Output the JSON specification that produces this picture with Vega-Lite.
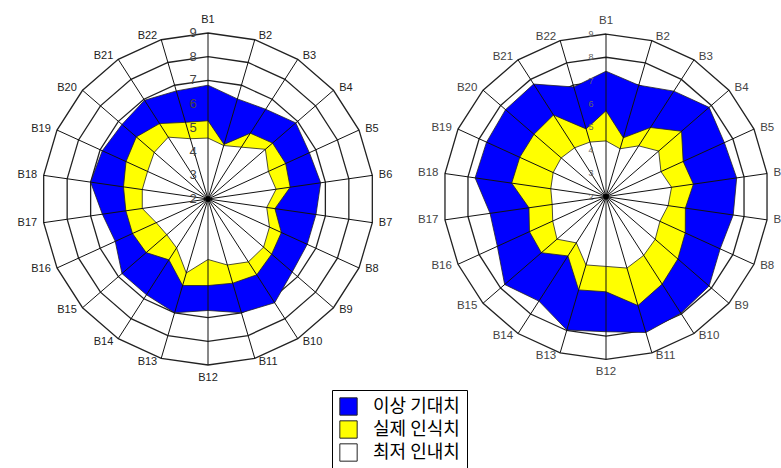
{
  "$schema": "https://vega.github.io/schema/vega-lite/v6.json",
  "padding": 0,
  "spacing": 0,
  "bounds": "flush",
  "background": "white",
  "config": {"view": {"stroke": null}, "text": {"font": "Liberation Sans"}},
  "datasets": {
    "vals": [
      {"chart":"L","spoke":1,"label":"B1","ideal":6.8,"actual":5.3,"minimum":4.57},
      {"chart":"L","spoke":2,"label":"B2","ideal":6.4,"actual":4.4,"minimum":4.35},
      {"chart":"L","spoke":3,"label":"B3","ideal":6.5,"actual":5.3,"minimum":4.6},
      {"chart":"L","spoke":4,"label":"B4","ideal":6.9,"actual":5.6,"minimum":5.2},
      {"chart":"L","spoke":5,"label":"B5","ideal":6.7,"actual":5.6,"minimum":4.8},
      {"chart":"L","spoke":6,"label":"B6","ideal":6.8,"actual":5.5,"minimum":4.9},
      {"chart":"L","spoke":7,"label":"B7","ideal":6.6,"actual":4.85,"minimum":4.5},
      {"chart":"L","spoke":8,"label":"B8","ideal":6.6,"actual":5.4,"minimum":4.85},
      {"chart":"L","spoke":9,"label":"B9","ideal":6.7,"actual":5.55,"minimum":5.1},
      {"chart":"L","spoke":10,"label":"B10","ideal":7.2,"actual":5.8,"minimum":5.15},
      {"chart":"L","spoke":11,"label":"B11","ideal":7.0,"actual":5.7,"minimum":4.9},
      {"chart":"L","spoke":12,"label":"B12","ideal":6.7,"actual":5.65,"minimum":4.55},
      {"chart":"L","spoke":13,"label":"B13","ideal":7.0,"actual":5.8,"minimum":5.25},
      {"chart":"L","spoke":14,"label":"B14","ideal":6.8,"actual":5.05,"minimum":4.45},
      {"chart":"L","spoke":15,"label":"B15","ideal":6.8,"actual":5.45,"minimum":4.3},
      {"chart":"L","spoke":16,"label":"B16","ideal":6.3,"actual":5.5,"minimum":4.4},
      {"chart":"L","spoke":17,"label":"B17","ideal":6.5,"actual":5.5,"minimum":4.8},
      {"chart":"L","spoke":18,"label":"B18","ideal":7.0,"actual":5.6,"minimum":4.8},
      {"chart":"L","spoke":19,"label":"B19","ideal":6.9,"actual":5.8,"minimum":4.8},
      {"chart":"L","spoke":20,"label":"B20","ideal":6.8,"actual":6.0,"minimum":5.0},
      {"chart":"L","spoke":21,"label":"B21","ideal":6.95,"actual":5.78,"minimum":5.1},
      {"chart":"L","spoke":22,"label":"B22","ideal":6.75,"actual":5.37,"minimum":4.65},
      {"chart":"R","spoke":1,"label":"B1","ideal":7.4,"actual":5.7,"minimum":4.4},
      {"chart":"R","spoke":2,"label":"B2","ideal":7.0,"actual":4.64,"minimum":4.15},
      {"chart":"R","spoke":3,"label":"B3","ideal":7.4,"actual":5.54,"minimum":4.6},
      {"chart":"R","spoke":4,"label":"B4","ideal":7.87,"actual":6.3,"minimum":5.0},
      {"chart":"R","spoke":5,"label":"B5","ideal":7.6,"actual":5.65,"minimum":4.6},
      {"chart":"R","spoke":6,"label":"B6","ideal":7.68,"actual":5.8,"minimum":4.85},
      {"chart":"R","spoke":7,"label":"B7","ideal":7.53,"actual":5.45,"minimum":4.7},
      {"chart":"R","spoke":8,"label":"B8","ideal":7.4,"actual":5.75,"minimum":4.55},
      {"chart":"R","spoke":9,"label":"B9","ideal":7.87,"actual":6.09,"minimum":4.8},
      {"chart":"R","spoke":10,"label":"B10","ideal":7.96,"actual":6.47,"minimum":5.0},
      {"chart":"R","spoke":11,"label":"B11","ideal":8.09,"actual":6.88,"minimum":5.2},
      {"chart":"R","spoke":12,"label":"B12","ideal":7.81,"actual":6.09,"minimum":5.0},
      {"chart":"R","spoke":13,"label":"B13","ideal":7.98,"actual":6.18,"minimum":5.06},
      {"chart":"R","spoke":14,"label":"B14","ideal":7.34,"actual":5.03,"minimum":4.36},
      {"chart":"R","spoke":15,"label":"B15","ideal":7.77,"actual":5.68,"minimum":4.79},
      {"chart":"R","spoke":16,"label":"B16","ideal":7.14,"actual":5.62,"minimum":4.52},
      {"chart":"R","spoke":17,"label":"B17","ideal":7.04,"actual":5.35,"minimum":4.34},
      {"chart":"R","spoke":18,"label":"B18","ideal":7.69,"actual":6.1,"minimum":4.4},
      {"chart":"R","spoke":19,"label":"B19","ideal":7.65,"actual":6.08,"minimum":4.5},
      {"chart":"R","spoke":20,"label":"B20","ideal":7.72,"actual":6.1,"minimum":4.55},
      {"chart":"R","spoke":21,"label":"B21","ideal":7.76,"actual":6.18,"minimum":4.5},
      {"chart":"R","spoke":22,"label":"B22","ideal":6.92,"actual":5.04,"minimum":4.45}
    ],
    "rings": [
      {"level":3,"spoke":[1,2,3,4,5,6,7,8,9,10,11,12,13,14,15,16,17,18,19,20,21,22]},
      {"level":4,"spoke":[1,2,3,4,5,6,7,8,9,10,11,12,13,14,15,16,17,18,19,20,21,22]},
      {"level":5,"spoke":[1,2,3,4,5,6,7,8,9,10,11,12,13,14,15,16,17,18,19,20,21,22]},
      {"level":6,"spoke":[1,2,3,4,5,6,7,8,9,10,11,12,13,14,15,16,17,18,19,20,21,22]},
      {"level":7,"spoke":[1,2,3,4,5,6,7,8,9,10,11,12,13,14,15,16,17,18,19,20,21,22]},
      {"level":8,"spoke":[1,2,3,4,5,6,7,8,9,10,11,12,13,14,15,16,17,18,19,20,21,22]},
      {"level":9,"spoke":[1,2,3,4,5,6,7,8,9,10,11,12,13,14,15,16,17,18,19,20,21,22]}
    ],
    "levels": [{"level":2},{"level":3},{"level":4},{"level":5},{"level":6},{"level":7},{"level":8},{"level":9}]
  },
  "hconcat": [
    {
      "width": 400, "height": 468,
      "layer": [
        {"data":{"name":"rings"},
         "transform":[{"flatten":["spoke"]},{"calculate":"(datum.spoke-1)*2*PI/22","as":"a"},{"calculate":"(datum.level-2)*sin(datum.a)","as":"x"},{"calculate":"(datum.level-2)*cos(datum.a)","as":"y"}],
         "mark":{"type":"line","interpolate":"linear-closed","color":"#222","strokeWidth":1.3},
         "encoding":{"x":{"field":"x","type":"quantitative","scale":{"domain":[-8.771,8.096],"nice":false,"zero":false},"axis":null},
                     "y":{"field":"y","type":"quantitative","scale":{"domain":[-11.343,8.392],"nice":false,"zero":false},"axis":null},
                     "detail":{"field":"level","type":"nominal"},"order":{"field":"spoke","type":"quantitative"}}},
        {"data":{"name":"vals"},
         "transform":[{"filter":"datum.chart==='L'"},{"fold":["ideal","actual","minimum"],"as":["series","value"]},{"filter":"datum.series==='ideal'"},{"calculate":"(datum.spoke-1)*2*PI/22","as":"a"},{"calculate":"(datum.value-2)*sin(datum.a)","as":"x"},{"calculate":"(datum.value-2)*cos(datum.a)","as":"y"}],
         "mark":{"type":"line","interpolate":"linear-closed","stroke":"#222","strokeWidth":0.8},
         "encoding":{"x":{"field":"x","type":"quantitative","axis":null},"y":{"field":"y","type":"quantitative","axis":null},
                     "fill":{"field":"series","type":"nominal","scale":{"domain":["ideal","actual","minimum"],"range":["#0000FF","#FFFF00","#FFFFFF"]},
                             "legend":{"orient":"none","legendX":332,"legendY":390,"title":null,
                                       "labelExpr":"datum.label==='ideal'?'이상 기대치':datum.label==='actual'?'실제 인식치':'최저 인내치'",
                                       "symbolType":"square","symbolSize":300,"symbolStrokeColor":"black","symbolStrokeWidth":1,"symbolOpacity":1,
                                       "labelFont":"Noto Sans CJK KR","labelFontSize":18,"labelColor":"black","labelOffset":15,"rowPadding":0,
                                       "padding":7,"strokeColor":"black","fillColor":"white"}},
                     "order":{"field":"spoke","type":"quantitative"}}},
        {"data":{"name":"vals"},
         "transform":[{"filter":"datum.chart==='L'"},{"fold":["ideal","actual","minimum"],"as":["series","value"]},{"filter":"datum.series==='actual'"},{"calculate":"(datum.spoke-1)*2*PI/22","as":"a"},{"calculate":"(datum.value-2)*sin(datum.a)","as":"x"},{"calculate":"(datum.value-2)*cos(datum.a)","as":"y"}],
         "mark":{"type":"line","interpolate":"linear-closed","stroke":"#222","strokeWidth":0.8},
         "encoding":{"x":{"field":"x","type":"quantitative","axis":null},"y":{"field":"y","type":"quantitative","axis":null},
                     "fill":{"field":"series","type":"nominal"},
                     "order":{"field":"spoke","type":"quantitative"}}},
        {"data":{"name":"vals"},
         "transform":[{"filter":"datum.chart==='L'"},{"fold":["ideal","actual","minimum"],"as":["series","value"]},{"filter":"datum.series==='minimum'"},{"calculate":"(datum.spoke-1)*2*PI/22","as":"a"},{"calculate":"(datum.value-2)*sin(datum.a)","as":"x"},{"calculate":"(datum.value-2)*cos(datum.a)","as":"y"}],
         "mark":{"type":"line","interpolate":"linear-closed","stroke":"#222","strokeWidth":0.8},
         "encoding":{"x":{"field":"x","type":"quantitative","axis":null},"y":{"field":"y","type":"quantitative","axis":null},
                     "fill":{"field":"series","type":"nominal"},
                     "order":{"field":"spoke","type":"quantitative"}}},
        {"data":{"name":"vals"},
         "transform":[{"filter":"datum.chart==='L'"},{"calculate":"(datum.spoke-1)*2*PI/22","as":"a"},{"calculate":"0","as":"x"},{"calculate":"0","as":"y"},{"calculate":"7*sin(datum.a)","as":"ex"},{"calculate":"7*cos(datum.a)","as":"ey"}],
         "mark":{"type":"rule","color":"#111","strokeWidth":1},
         "encoding":{"x":{"field":"x","type":"quantitative","axis":null},"y":{"field":"y","type":"quantitative","axis":null},"x2":{"field":"ex"},"y2":{"field":"ey"}}},
        {"data":{"values":[{"x":0,"y":0}]},
         "mark":{"type":"point","filled":true,"color":"black","size":30,"opacity":1},
         "encoding":{"x":{"field":"x","type":"quantitative","axis":null},"y":{"field":"y","type":"quantitative","axis":null}}},
        {"data":{"name":"vals"},
         "transform":[{"filter":"datum.chart==='L' && datum.spoke>=2 && datum.spoke<=11"},{"calculate":"(datum.spoke-1)*2*PI/22","as":"a"},{"calculate":"7.15*sin(datum.a)","as":"x"},{"calculate":"7.15*cos(datum.a)","as":"y"}],
         "mark":{"type":"text","align":"left","baseline":"middle","dx":3,"fontSize":11,"color":"#222"},
         "encoding":{"x":{"field":"x","type":"quantitative","axis":null},"y":{"field":"y","type":"quantitative","axis":null},"text":{"field":"label","type":"nominal"}}},
        {"data":{"name":"vals"},
         "transform":[{"filter":"datum.chart==='L' && datum.spoke>=13"},{"calculate":"(datum.spoke-1)*2*PI/22","as":"a"},{"calculate":"7.15*sin(datum.a)","as":"x"},{"calculate":"7.15*cos(datum.a)","as":"y"}],
         "mark":{"type":"text","align":"right","baseline":"middle","dx":-3,"fontSize":11,"color":"#222"},
         "encoding":{"x":{"field":"x","type":"quantitative","axis":null},"y":{"field":"y","type":"quantitative","axis":null},"text":{"field":"label","type":"nominal"}}},
        {"data":{"name":"vals"},
         "transform":[{"filter":"datum.chart==='L' && datum.spoke===1"},{"calculate":"0","as":"x"},{"calculate":"7","as":"y"}],
         "mark":{"type":"text","align":"center","baseline":"bottom","dy":-8,"fontSize":11,"color":"#222"},
         "encoding":{"x":{"field":"x","type":"quantitative","axis":null},"y":{"field":"y","type":"quantitative","axis":null},"text":{"field":"label","type":"nominal"}}},
        {"data":{"name":"vals"},
         "transform":[{"filter":"datum.chart==='L' && datum.spoke===12"},{"calculate":"0","as":"x"},{"calculate":"-7","as":"y"}],
         "mark":{"type":"text","align":"center","baseline":"top","dy":7,"fontSize":11,"color":"#222"},
         "encoding":{"x":{"field":"x","type":"quantitative","axis":null},"y":{"field":"y","type":"quantitative","axis":null},"text":{"field":"label","type":"nominal"}}},
        {"data":{"name":"levels"},
         "transform":[{"calculate":"0","as":"x"},{"calculate":"datum.level-2","as":"y"}],
         "mark":{"type":"text","align":"center","baseline":"middle","dx":-15,"fontSize":13,"color":"#444"},
         "encoding":{"x":{"field":"x","type":"quantitative","axis":null},"y":{"field":"y","type":"quantitative","axis":null},"text":{"field":"level","type":"nominal"}}}
      ]
    },
    {
      "width": 381, "height": 468,
      "layer": [
        {"data":{"name":"rings"},
         "transform":[{"flatten":["spoke"]},{"calculate":"(datum.spoke-1)*2*PI/22","as":"a"},{"calculate":"(datum.level-2)*sin(datum.a)","as":"x"},{"calculate":"(datum.level-2)*cos(datum.a)","as":"y"}],
         "mark":{"type":"line","interpolate":"linear-closed","color":"#222","strokeWidth":1.3},
         "encoding":{"x":{"field":"x","type":"quantitative","scale":{"domain":[-8.864,7.530],"nice":false,"zero":false},"axis":null},
                     "y":{"field":"y","type":"quantitative","scale":{"domain":[-11.674,8.464],"nice":false,"zero":false},"axis":null},
                     "detail":{"field":"level","type":"nominal"},"order":{"field":"spoke","type":"quantitative"}}},
        {"data":{"name":"vals"},
         "transform":[{"filter":"datum.chart==='R'"},{"fold":["ideal","actual","minimum"],"as":["series","value"]},{"filter":"datum.series==='ideal'"},{"calculate":"(datum.spoke-1)*2*PI/22","as":"a"},{"calculate":"(datum.value-2)*sin(datum.a)","as":"x"},{"calculate":"(datum.value-2)*cos(datum.a)","as":"y"}],
         "mark":{"type":"line","interpolate":"linear-closed","stroke":"#222","strokeWidth":0.8},
         "encoding":{"x":{"field":"x","type":"quantitative","axis":null},"y":{"field":"y","type":"quantitative","axis":null},
                     "fill":{"field":"series","type":"nominal","legend":null},
                     "order":{"field":"spoke","type":"quantitative"}}},
        {"data":{"name":"vals"},
         "transform":[{"filter":"datum.chart==='R'"},{"fold":["ideal","actual","minimum"],"as":["series","value"]},{"filter":"datum.series==='actual'"},{"calculate":"(datum.spoke-1)*2*PI/22","as":"a"},{"calculate":"(datum.value-2)*sin(datum.a)","as":"x"},{"calculate":"(datum.value-2)*cos(datum.a)","as":"y"}],
         "mark":{"type":"line","interpolate":"linear-closed","stroke":"#222","strokeWidth":0.8},
         "encoding":{"x":{"field":"x","type":"quantitative","axis":null},"y":{"field":"y","type":"quantitative","axis":null},
                     "fill":{"field":"series","type":"nominal","legend":null},
                     "order":{"field":"spoke","type":"quantitative"}}},
        {"data":{"name":"vals"},
         "transform":[{"filter":"datum.chart==='R'"},{"fold":["ideal","actual","minimum"],"as":["series","value"]},{"filter":"datum.series==='minimum'"},{"calculate":"(datum.spoke-1)*2*PI/22","as":"a"},{"calculate":"(datum.value-2)*sin(datum.a)","as":"x"},{"calculate":"(datum.value-2)*cos(datum.a)","as":"y"}],
         "mark":{"type":"line","interpolate":"linear-closed","stroke":"#222","strokeWidth":0.8},
         "encoding":{"x":{"field":"x","type":"quantitative","axis":null},"y":{"field":"y","type":"quantitative","axis":null},
                     "fill":{"field":"series","type":"nominal","legend":null},
                     "order":{"field":"spoke","type":"quantitative"}}},
        {"data":{"name":"vals"},
         "transform":[{"filter":"datum.chart==='R'"},{"calculate":"(datum.spoke-1)*2*PI/22","as":"a"},{"calculate":"0","as":"x"},{"calculate":"0","as":"y"},{"calculate":"7*sin(datum.a)","as":"ex"},{"calculate":"7*cos(datum.a)","as":"ey"}],
         "mark":{"type":"rule","color":"#111","strokeWidth":1},
         "encoding":{"x":{"field":"x","type":"quantitative","axis":null},"y":{"field":"y","type":"quantitative","axis":null},"x2":{"field":"ex"},"y2":{"field":"ey"}}},
        {"data":{"values":[{"x":0,"y":0}]},
         "mark":{"type":"point","filled":true,"color":"black","size":30,"opacity":1},
         "encoding":{"x":{"field":"x","type":"quantitative","axis":null},"y":{"field":"y","type":"quantitative","axis":null}}},
        {"data":{"name":"vals"},
         "transform":[{"filter":"datum.chart==='R' && datum.spoke>=2 && datum.spoke<=11"},{"calculate":"(datum.spoke-1)*2*PI/22","as":"a"},{"calculate":"7.15*sin(datum.a)","as":"x"},{"calculate":"7.15*cos(datum.a)","as":"y"}],
         "mark":{"type":"text","align":"left","baseline":"middle","dx":3,"fontSize":11.5,"color":"#444"},
         "encoding":{"x":{"field":"x","type":"quantitative","axis":null},"y":{"field":"y","type":"quantitative","axis":null},"text":{"field":"label","type":"nominal"}}},
        {"data":{"name":"vals"},
         "transform":[{"filter":"datum.chart==='R' && datum.spoke>=13"},{"calculate":"(datum.spoke-1)*2*PI/22","as":"a"},{"calculate":"7.15*sin(datum.a)","as":"x"},{"calculate":"7.15*cos(datum.a)","as":"y"}],
         "mark":{"type":"text","align":"right","baseline":"middle","dx":-3,"fontSize":11.5,"color":"#444"},
         "encoding":{"x":{"field":"x","type":"quantitative","axis":null},"y":{"field":"y","type":"quantitative","axis":null},"text":{"field":"label","type":"nominal"}}},
        {"data":{"name":"vals"},
         "transform":[{"filter":"datum.chart==='R' && datum.spoke===1"},{"calculate":"0","as":"x"},{"calculate":"7","as":"y"}],
         "mark":{"type":"text","align":"center","baseline":"bottom","dy":-8,"fontSize":11.5,"color":"#444"},
         "encoding":{"x":{"field":"x","type":"quantitative","axis":null},"y":{"field":"y","type":"quantitative","axis":null},"text":{"field":"label","type":"nominal"}}},
        {"data":{"name":"vals"},
         "transform":[{"filter":"datum.chart==='R' && datum.spoke===12"},{"calculate":"0","as":"x"},{"calculate":"-7","as":"y"}],
         "mark":{"type":"text","align":"center","baseline":"top","dy":7,"fontSize":11.5,"color":"#444"},
         "encoding":{"x":{"field":"x","type":"quantitative","axis":null},"y":{"field":"y","type":"quantitative","axis":null},"text":{"field":"label","type":"nominal"}}},
        {"data":{"name":"levels"},
         "transform":[{"calculate":"0","as":"x"},{"calculate":"datum.level-2","as":"y"}],
         "mark":{"type":"text","align":"center","baseline":"middle","dx":-15,"fontSize":9,"color":"#666"},
         "encoding":{"x":{"field":"x","type":"quantitative","axis":null},"y":{"field":"y","type":"quantitative","axis":null},"text":{"field":"level","type":"nominal"}}}
      ]
    }
  ]
}
